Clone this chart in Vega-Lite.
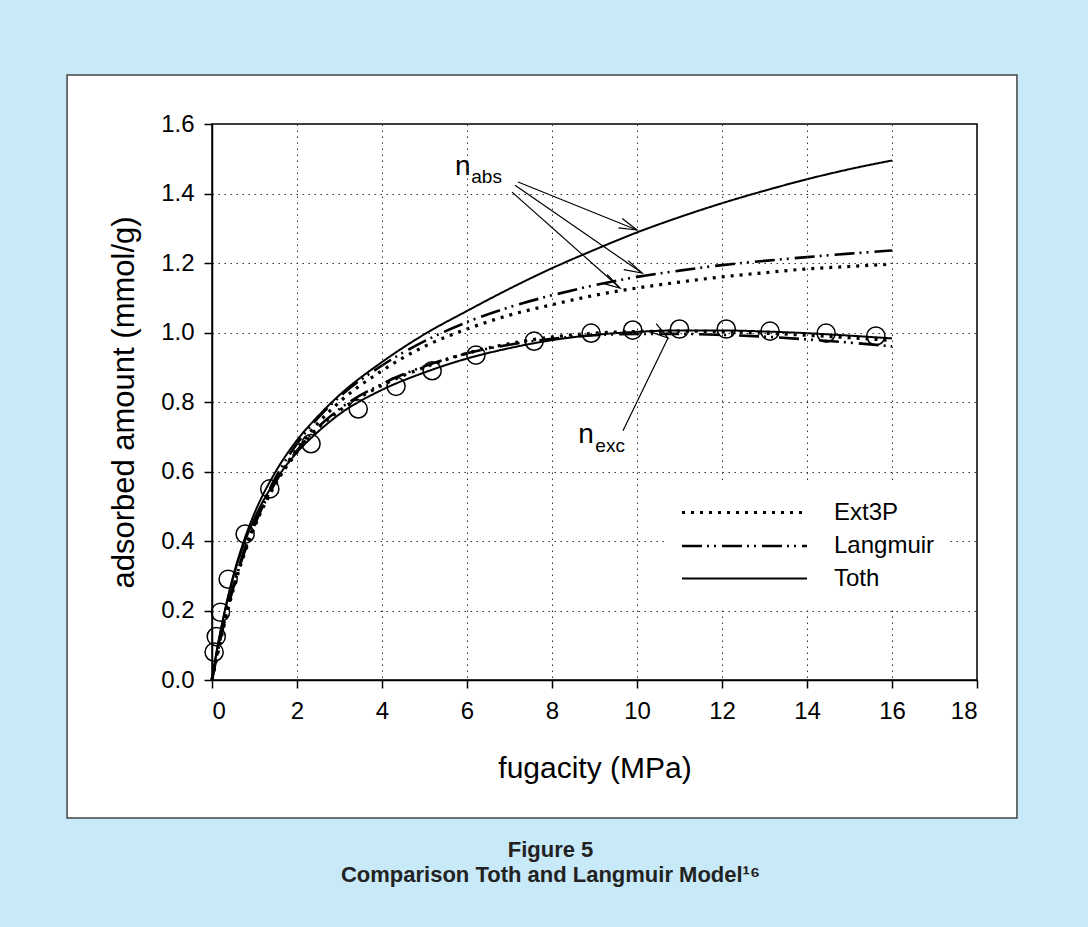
{
  "$schema": "https://vega.github.io/schema/vega-lite/v6.json",
  "width": 765,
  "height": 556,
  "autosize": {"type": "none"},
  "padding": {"left": 212, "top": 124, "right": 111, "bottom": 247},
  "background": "#c8e9f8",
  "config": {"view": {"stroke": null}, "font": "Liberation Sans"},
  "title": {
    "text": "Figure 5",
    "subtitle": "Comparison Toth and Langmuir Model¹⁶",
    "orient": "bottom",
    "anchor": "middle",
    "font": "Liberation Sans",
    "subtitleFont": "Liberation Sans",
    "fontSize": 22,
    "fontWeight": "bold",
    "subtitleFontSize": 22,
    "subtitleFontWeight": "bold",
    "color": "#222222",
    "subtitleColor": "#222222",
    "subtitlePadding": 3,
    "offset": 21,
    "dx": -44
  },
  "datasets": {
    "curves": [
      {"m": "Toth", "k": "abs", "f": 0, "q": 0},
      {"m": "Toth", "k": "abs", "f": 0.1, "q": 0.075},
      {"m": "Toth", "k": "abs", "f": 0.25, "q": 0.17},
      {"m": "Toth", "k": "abs", "f": 0.5, "q": 0.3},
      {"m": "Toth", "k": "abs", "f": 0.75, "q": 0.4},
      {"m": "Toth", "k": "abs", "f": 1, "q": 0.48},
      {"m": "Toth", "k": "abs", "f": 1.5, "q": 0.6},
      {"m": "Toth", "k": "abs", "f": 2, "q": 0.69},
      {"m": "Toth", "k": "abs", "f": 2.5, "q": 0.76},
      {"m": "Toth", "k": "abs", "f": 3, "q": 0.82},
      {"m": "Toth", "k": "abs", "f": 4, "q": 0.915},
      {"m": "Toth", "k": "abs", "f": 5, "q": 0.995},
      {"m": "Toth", "k": "abs", "f": 6, "q": 1.062},
      {"m": "Toth", "k": "abs", "f": 7, "q": 1.126},
      {"m": "Toth", "k": "abs", "f": 8, "q": 1.185},
      {"m": "Toth", "k": "abs", "f": 9, "q": 1.238},
      {"m": "Toth", "k": "abs", "f": 10, "q": 1.288},
      {"m": "Toth", "k": "abs", "f": 11, "q": 1.332},
      {"m": "Toth", "k": "abs", "f": 12, "q": 1.372},
      {"m": "Toth", "k": "abs", "f": 13, "q": 1.408},
      {"m": "Toth", "k": "abs", "f": 14, "q": 1.441},
      {"m": "Toth", "k": "abs", "f": 15, "q": 1.47},
      {"m": "Toth", "k": "abs", "f": 16, "q": 1.495},
      {"m": "Langmuir", "k": "abs", "f": 0, "q": 0},
      {"m": "Langmuir", "k": "abs", "f": 0.1, "q": 0.065},
      {"m": "Langmuir", "k": "abs", "f": 0.25, "q": 0.15},
      {"m": "Langmuir", "k": "abs", "f": 0.5, "q": 0.27},
      {"m": "Langmuir", "k": "abs", "f": 0.75, "q": 0.37},
      {"m": "Langmuir", "k": "abs", "f": 1, "q": 0.452},
      {"m": "Langmuir", "k": "abs", "f": 1.5, "q": 0.583},
      {"m": "Langmuir", "k": "abs", "f": 2, "q": 0.68},
      {"m": "Langmuir", "k": "abs", "f": 2.5, "q": 0.755},
      {"m": "Langmuir", "k": "abs", "f": 3, "q": 0.815},
      {"m": "Langmuir", "k": "abs", "f": 4, "q": 0.905},
      {"m": "Langmuir", "k": "abs", "f": 5, "q": 0.975},
      {"m": "Langmuir", "k": "abs", "f": 6, "q": 1.03},
      {"m": "Langmuir", "k": "abs", "f": 7, "q": 1.073},
      {"m": "Langmuir", "k": "abs", "f": 8, "q": 1.107},
      {"m": "Langmuir", "k": "abs", "f": 9, "q": 1.136},
      {"m": "Langmuir", "k": "abs", "f": 10, "q": 1.16},
      {"m": "Langmuir", "k": "abs", "f": 11, "q": 1.178},
      {"m": "Langmuir", "k": "abs", "f": 12, "q": 1.194},
      {"m": "Langmuir", "k": "abs", "f": 13, "q": 1.206},
      {"m": "Langmuir", "k": "abs", "f": 14, "q": 1.217},
      {"m": "Langmuir", "k": "abs", "f": 15, "q": 1.227},
      {"m": "Langmuir", "k": "abs", "f": 16, "q": 1.236},
      {"m": "Ext3P", "k": "abs", "f": 0, "q": 0},
      {"m": "Ext3P", "k": "abs", "f": 0.1, "q": 0.06},
      {"m": "Ext3P", "k": "abs", "f": 0.25, "q": 0.145},
      {"m": "Ext3P", "k": "abs", "f": 0.5, "q": 0.265},
      {"m": "Ext3P", "k": "abs", "f": 0.75, "q": 0.365},
      {"m": "Ext3P", "k": "abs", "f": 1, "q": 0.445},
      {"m": "Ext3P", "k": "abs", "f": 1.5, "q": 0.57},
      {"m": "Ext3P", "k": "abs", "f": 2, "q": 0.665},
      {"m": "Ext3P", "k": "abs", "f": 2.5, "q": 0.74},
      {"m": "Ext3P", "k": "abs", "f": 3, "q": 0.8},
      {"m": "Ext3P", "k": "abs", "f": 4, "q": 0.89},
      {"m": "Ext3P", "k": "abs", "f": 5, "q": 0.96},
      {"m": "Ext3P", "k": "abs", "f": 6, "q": 1.01},
      {"m": "Ext3P", "k": "abs", "f": 7, "q": 1.05},
      {"m": "Ext3P", "k": "abs", "f": 8, "q": 1.08},
      {"m": "Ext3P", "k": "abs", "f": 9, "q": 1.107},
      {"m": "Ext3P", "k": "abs", "f": 10, "q": 1.128},
      {"m": "Ext3P", "k": "abs", "f": 11, "q": 1.145},
      {"m": "Ext3P", "k": "abs", "f": 12, "q": 1.16},
      {"m": "Ext3P", "k": "abs", "f": 13, "q": 1.172},
      {"m": "Ext3P", "k": "abs", "f": 14, "q": 1.183},
      {"m": "Ext3P", "k": "abs", "f": 15, "q": 1.19},
      {"m": "Ext3P", "k": "abs", "f": 16, "q": 1.197},
      {"m": "Toth", "k": "exc", "f": 0, "q": 0},
      {"m": "Toth", "k": "exc", "f": 0.1, "q": 0.075},
      {"m": "Toth", "k": "exc", "f": 0.25, "q": 0.168},
      {"m": "Toth", "k": "exc", "f": 0.5, "q": 0.295},
      {"m": "Toth", "k": "exc", "f": 0.75, "q": 0.39},
      {"m": "Toth", "k": "exc", "f": 1, "q": 0.465},
      {"m": "Toth", "k": "exc", "f": 1.5, "q": 0.575},
      {"m": "Toth", "k": "exc", "f": 2, "q": 0.655},
      {"m": "Toth", "k": "exc", "f": 2.5, "q": 0.715},
      {"m": "Toth", "k": "exc", "f": 3, "q": 0.765},
      {"m": "Toth", "k": "exc", "f": 4, "q": 0.835},
      {"m": "Toth", "k": "exc", "f": 5, "q": 0.885},
      {"m": "Toth", "k": "exc", "f": 6, "q": 0.925},
      {"m": "Toth", "k": "exc", "f": 7, "q": 0.955},
      {"m": "Toth", "k": "exc", "f": 8, "q": 0.978},
      {"m": "Toth", "k": "exc", "f": 9, "q": 0.993},
      {"m": "Toth", "k": "exc", "f": 10, "q": 1.002},
      {"m": "Toth", "k": "exc", "f": 11, "q": 1.006},
      {"m": "Toth", "k": "exc", "f": 12, "q": 1.006},
      {"m": "Toth", "k": "exc", "f": 13, "q": 1.003},
      {"m": "Toth", "k": "exc", "f": 14, "q": 0.998},
      {"m": "Toth", "k": "exc", "f": 15, "q": 0.991},
      {"m": "Toth", "k": "exc", "f": 16, "q": 0.983},
      {"m": "Langmuir", "k": "exc", "f": 0, "q": 0},
      {"m": "Langmuir", "k": "exc", "f": 0.25, "q": 0.145},
      {"m": "Langmuir", "k": "exc", "f": 0.5, "q": 0.265},
      {"m": "Langmuir", "k": "exc", "f": 1, "q": 0.445},
      {"m": "Langmuir", "k": "exc", "f": 1.5, "q": 0.57},
      {"m": "Langmuir", "k": "exc", "f": 2, "q": 0.66},
      {"m": "Langmuir", "k": "exc", "f": 2.5, "q": 0.728},
      {"m": "Langmuir", "k": "exc", "f": 3, "q": 0.78},
      {"m": "Langmuir", "k": "exc", "f": 4, "q": 0.852},
      {"m": "Langmuir", "k": "exc", "f": 5, "q": 0.903},
      {"m": "Langmuir", "k": "exc", "f": 6, "q": 0.94},
      {"m": "Langmuir", "k": "exc", "f": 7, "q": 0.965},
      {"m": "Langmuir", "k": "exc", "f": 8, "q": 0.982},
      {"m": "Langmuir", "k": "exc", "f": 9, "q": 0.992},
      {"m": "Langmuir", "k": "exc", "f": 10, "q": 0.996},
      {"m": "Langmuir", "k": "exc", "f": 11, "q": 0.996},
      {"m": "Langmuir", "k": "exc", "f": 12, "q": 0.993},
      {"m": "Langmuir", "k": "exc", "f": 13, "q": 0.988},
      {"m": "Langmuir", "k": "exc", "f": 14, "q": 0.98},
      {"m": "Langmuir", "k": "exc", "f": 15, "q": 0.971},
      {"m": "Langmuir", "k": "exc", "f": 16, "q": 0.96},
      {"m": "Ext3P", "k": "exc", "f": 0, "q": 0},
      {"m": "Ext3P", "k": "exc", "f": 0.25, "q": 0.14},
      {"m": "Ext3P", "k": "exc", "f": 0.5, "q": 0.26},
      {"m": "Ext3P", "k": "exc", "f": 1, "q": 0.44},
      {"m": "Ext3P", "k": "exc", "f": 1.5, "q": 0.565},
      {"m": "Ext3P", "k": "exc", "f": 2, "q": 0.655},
      {"m": "Ext3P", "k": "exc", "f": 2.5, "q": 0.725},
      {"m": "Ext3P", "k": "exc", "f": 3, "q": 0.775},
      {"m": "Ext3P", "k": "exc", "f": 4, "q": 0.848},
      {"m": "Ext3P", "k": "exc", "f": 5, "q": 0.9},
      {"m": "Ext3P", "k": "exc", "f": 6, "q": 0.94},
      {"m": "Ext3P", "k": "exc", "f": 7, "q": 0.968},
      {"m": "Ext3P", "k": "exc", "f": 8, "q": 0.987},
      {"m": "Ext3P", "k": "exc", "f": 9, "q": 0.998},
      {"m": "Ext3P", "k": "exc", "f": 10, "q": 1.003},
      {"m": "Ext3P", "k": "exc", "f": 11, "q": 1.004},
      {"m": "Ext3P", "k": "exc", "f": 12, "q": 1.002},
      {"m": "Ext3P", "k": "exc", "f": 13, "q": 0.998},
      {"m": "Ext3P", "k": "exc", "f": 14, "q": 0.992},
      {"m": "Ext3P", "k": "exc", "f": 15, "q": 0.985},
      {"m": "Ext3P", "k": "exc", "f": 16, "q": 0.977}
    ],
    "points": [
      {"f": 0.05, "q": 0.08},
      {"f": 0.1, "q": 0.125},
      {"f": 0.2, "q": 0.195},
      {"f": 0.38, "q": 0.29},
      {"f": 0.78, "q": 0.42},
      {"f": 1.36, "q": 0.55},
      {"f": 2.33, "q": 0.68},
      {"f": 3.44, "q": 0.78},
      {"f": 4.33, "q": 0.845},
      {"f": 5.18, "q": 0.89},
      {"f": 6.21, "q": 0.935},
      {"f": 7.58, "q": 0.975},
      {"f": 8.92, "q": 0.998},
      {"f": 9.9, "q": 1.007},
      {"f": 11.0, "q": 1.01},
      {"f": 12.1, "q": 1.01},
      {"f": 13.13, "q": 1.004},
      {"f": 14.45, "q": 0.998},
      {"f": 15.62, "q": 0.99}
    ],
    "arrows": [
      {"id": "a1", "f": 7.2, "q": 1.433, "f2": 10.0, "q2": 1.295},
      {"id": "a2", "f": 7.13, "q": 1.424, "f2": 10.12, "q2": 1.171},
      {"id": "a3", "f": 7.06, "q": 1.404, "f2": 9.6, "q2": 1.128},
      {"id": "e1", "f": 9.67, "q": 0.717, "f2": 10.73, "q2": 0.984}
    ],
    "mainText": [
      {"t": "n", "f": 5.72, "q": 1.453},
      {"t": "n", "f": 8.62, "q": 0.682}
    ],
    "subText": [
      {"t": "abs", "f": 6.1, "q": 1.43},
      {"t": "exc", "f": 9.02, "q": 0.656}
    ]
  },
  "layer": [
    {
      "data": {"values": [{}]},
      "mark": {"type": "rect", "fill": "white", "stroke": "#444444", "strokeWidth": 1.5},
      "encoding": {
        "x": {
          "datum": -3.41,
          "type": "quantitative",
          "scale": {"domain": [0, 18], "nice": false, "zero": false},
          "axis": {
            "title": "fugacity (MPa)",
            "values": [0, 2, 4, 6, 8, 10, 12, 14, 16, 18],
            "format": "d",
            "zindex": 1,
            "grid": true,
            "gridColor": "#333333",
            "gridDash": [1.5, 4.5],
            "gridWidth": 1,
            "gridOpacity": 1,
            "domainColor": "black",
            "domainWidth": 1.5,
            "tickColor": "black",
            "tickWidth": 1.5,
            "tickSize": 8,
            "labelFont": "Liberation Sans",
            "labelFontSize": 24,
            "labelColor": "black",
            "labelPadding": 11,
            "titleFont": "Liberation Sans",
            "titleFontSize": 30,
            "titleFontWeight": "normal",
            "titleColor": "black",
            "titlePadding": 30
          }
        },
        "x2": {"datum": 18.94},
        "y": {
          "datum": 1.741,
          "type": "quantitative",
          "scale": {"domain": [0, 1.6], "nice": false, "zero": false},
          "axis": {
            "title": "adsorbed amount (mmol/g)",
            "values": [0, 0.2, 0.4, 0.6, 0.8, 1.0, 1.2, 1.4, 1.6],
            "format": ".1f",
            "zindex": 1,
            "grid": true,
            "gridColor": "#333333",
            "gridDash": [1.5, 4.5],
            "gridWidth": 1,
            "gridOpacity": 1,
            "domainColor": "black",
            "domainWidth": 1.5,
            "tickColor": "black",
            "tickWidth": 1.5,
            "tickSize": 8,
            "labelFont": "Liberation Sans",
            "labelFontSize": 24,
            "labelColor": "black",
            "labelPadding": 10,
            "titleFont": "Liberation Sans",
            "titleFontSize": 31,
            "titleFontWeight": "normal",
            "titleColor": "black",
            "titlePadding": 20
          }
        },
        "y2": {"datum": -0.397}
      }
    },
    {
      "data": {"name": "curves"},
      "mark": {"type": "line", "color": "black", "interpolate": "monotone"},
      "encoding": {
        "x": {"field": "f", "type": "quantitative"},
        "y": {"field": "q", "type": "quantitative"},
        "detail": {"field": "k"},
        "strokeDash": {
          "field": "m",
          "type": "nominal",
          "scale": {"domain": ["Ext3P", "Langmuir", "Toth"], "range": [[3, 6], [20, 5, 2, 5, 2, 6], [1, 0]]},
          "legend": {
            "title": null,
            "orient": "none",
            "legendX": 453,
            "legendY": 359,
            "fillColor": "white",
            "padding": 15,
            "symbolType": "M-1,0H9",
            "symbolSize": 625,
            "symbolStrokeColor": "black",
            "symbolFillColor": "transparent",
            "symbolStrokeWidth": 2.5,
            "labelFont": "Liberation Sans",
            "labelFontSize": 24,
            "labelColor": "black",
            "labelOffset": 125,
            "rowPadding": 7,
            "zindex": 2
          }
        },
        "strokeWidth": {
          "field": "m",
          "type": "nominal",
          "scale": {"domain": ["Ext3P", "Langmuir", "Toth"], "range": [3.2, 2, 2.5]},
          "legend": null
        }
      }
    },
    {
      "data": {"name": "points"},
      "mark": {"type": "point", "shape": "circle", "filled": false, "stroke": "black", "strokeWidth": 1.5, "size": 330, "opacity": 1},
      "encoding": {
        "x": {"field": "f", "type": "quantitative"},
        "y": {"field": "q", "type": "quantitative"}
      }
    },
    {
      "data": {"name": "arrows"},
      "mark": {"type": "rule", "color": "black", "strokeWidth": 1.2},
      "encoding": {
        "x": {"field": "f", "type": "quantitative"},
        "y": {"field": "q", "type": "quantitative"},
        "x2": {"field": "f2"},
        "y2": {"field": "q2"}
      }
    },
    {
      "data": {"name": "arrows"},
      "mark": {"type": "point", "shape": "M-0.28,1L0,0L0.28,1", "filled": false, "stroke": "black", "strokeWidth": 1.2, "size": 1296, "opacity": 1},
      "encoding": {
        "x": {"field": "f2", "type": "quantitative"},
        "y": {"field": "q2", "type": "quantitative"},
        "angle": {
          "field": "id",
          "type": "nominal",
          "scale": {"domain": ["a1", "a2", "a3", "e1"], "range": [112, 125, 132, 26]},
          "legend": null
        }
      }
    },
    {
      "data": {"name": "mainText"},
      "mark": {"type": "text", "align": "left", "baseline": "alphabetic", "font": "Liberation Sans", "fontSize": 28, "color": "black"},
      "encoding": {
        "x": {"field": "f", "type": "quantitative"},
        "y": {"field": "q", "type": "quantitative"},
        "text": {"field": "t"}
      }
    },
    {
      "data": {"name": "subText"},
      "mark": {"type": "text", "align": "left", "baseline": "alphabetic", "font": "Liberation Sans", "fontSize": 19, "color": "black"},
      "encoding": {
        "x": {"field": "f", "type": "quantitative"},
        "y": {"field": "q", "type": "quantitative"},
        "text": {"field": "t"}
      }
    },
    {
      "data": {"values": [{}]},
      "mark": {"type": "rect", "fill": null, "fillOpacity": 0, "stroke": "black", "strokeWidth": 1.5},
      "encoding": {
        "x": {"datum": 0, "type": "quantitative"},
        "x2": {"datum": 18},
        "y": {"datum": 0, "type": "quantitative"},
        "y2": {"datum": 1.6}
      }
    }
  ]
}
